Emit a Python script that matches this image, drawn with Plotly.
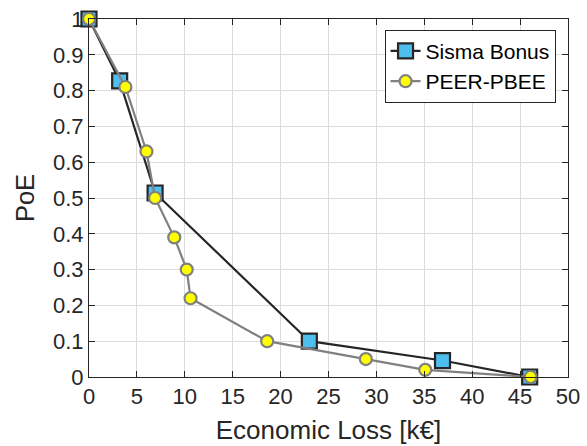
import plotly.graph_objects as go

sisma_x = [0, 3.2, 6.9, 23.0, 36.9, 46.0]
sisma_y = [1.0, 0.827, 0.514, 0.10, 0.046, 0.0]
peer_x = [0, 3.8, 6.0, 6.9, 8.9, 10.2, 10.6, 18.6, 28.9, 35.1, 46.1]
peer_y = [1.0, 0.81, 0.63, 0.50, 0.39, 0.30, 0.22, 0.10, 0.05, 0.02, 0.0]
x_ticks = list(range(0, 51, 5))
y_ticks = [i / 10 for i in range(11)]
y_ticklabels = ["0", "0.1", "0.2", "0.3", "0.4", "0.5", "0.6", "0.7", "0.8", "0.9", "1"]

FONT = "Liberation Sans, Arial, sans-serif"
fig = go.Figure()
fig.add_trace(go.Scatter(
    x=sisma_x, y=sisma_y, mode="lines+markers", name="Sisma Bonus",
    line=dict(color="#262626", width=2.2),
    marker=dict(symbol="square", size=15, color="#4DBEEE",
                line=dict(color="#262626", width=2.2)),
    cliponaxis=False))
fig.add_trace(go.Scatter(
    x=peer_x, y=peer_y, mode="lines+markers", name="PEER-PBEE",
    line=dict(color="#808080", width=2.2),
    marker=dict(symbol="circle", size=12, color="#FFFF00",
                line=dict(color="#808080", width=2.2)),
    cliponaxis=False))

axis_common = dict(showline=True, linecolor="#262626", linewidth=1, mirror="ticks",
                   ticks="inside", ticklen=6, tickcolor="#262626",
                   showgrid=True, gridcolor="#dcdcdc", gridwidth=1, zeroline=False,
                   automargin=False,
                   tickfont=dict(family=FONT, size=22, color="#262626"))
fig.update_xaxes(range=[0, 50], tickmode="array", tickvals=x_ticks,
                 title=dict(text="Economic Loss [k€]", font=dict(family=FONT, size=26, color="#262626"),
                            standoff=12),
                 **axis_common)
fig.update_yaxes(range=[0, 1], tickmode="array", tickvals=y_ticks, ticktext=y_ticklabels,
                 title=dict(text="PoE", font=dict(family=FONT, size=25.5, color="#262626"), standoff=11),
                 **axis_common)
fig.update_layout(
    width=587, height=446, margin=dict(l=89, r=19, t=19, b=69),
    plot_bgcolor="white", paper_bgcolor="white",
    legend=dict(x=0.617, y=0.97, xanchor="left", yanchor="top",
                bgcolor="white", bordercolor="#262626", borderwidth=1,
                font=dict(family=FONT, size=21, color="#000000"), tracegroupgap=0),
    showlegend=True)
fig.write_html("out.html")
